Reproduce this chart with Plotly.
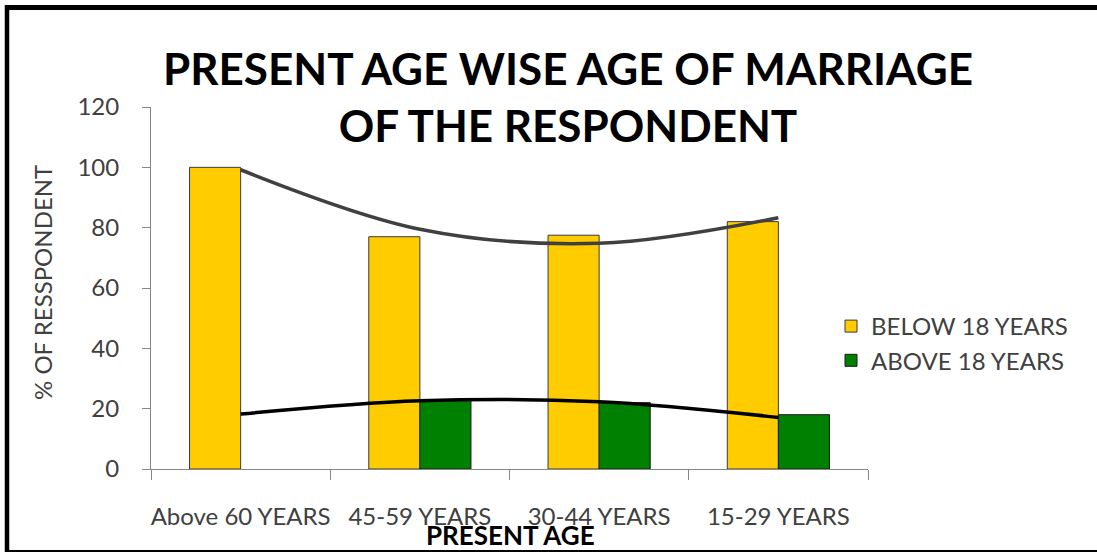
import plotly.graph_objects as go

# ---- data ----
categories = ["Above 60 YEARS", "45-59 YEARS", "30-44 YEARS", "15-29 YEARS"]
below_18 = [100, 77, 77.5, 82]
above_18 = [None, 23, 22, 18]
# polynomial trendline values read at category centres
below_trend = [99.2, 79.5, 74.8, 83.3]
above_trend = [18.2, 22.6, 22.3, 17.1]
y_ticks = [0, 20, 40, 60, 80, 100, 120]

W, H = 1097, 553
L, R, T, B = 151, 229, 107, 84
PW, PH = W - L - R, H - T - B
FONT = "Lato"


def px_x(p):
    return (p - L) / PW


def px_y(p):
    return (H - B - p) / PH


fig = go.Figure()
fig.add_trace(go.Bar(x=categories, y=below_18, name="BELOW 18 YEARS",
                     marker=dict(color="#FFCC00", line=dict(color="#3a3a3a", width=1))))
fig.add_trace(go.Bar(x=categories, y=above_18, name="ABOVE 18 YEARS",
                     marker=dict(color="#008000", line=dict(color="#1a1a1a", width=1))))

idx = list(range(len(categories)))
fig.add_trace(go.Scatter(x=idx, y=below_trend, xaxis="x2", mode="lines",
                         line=dict(color="#404040", width=3.5, shape="spline"),
                         showlegend=False, hoverinfo="skip"))
fig.add_trace(go.Scatter(x=idx, y=above_trend, xaxis="x2", mode="lines",
                         line=dict(color="#000000", width=3.5, shape="spline"),
                         showlegend=False, hoverinfo="skip"))

fig.update_layout(
    width=W, height=H,
    margin=dict(l=L, r=R, t=T, b=B, autoexpand=False),
    paper_bgcolor="white", plot_bgcolor="white",
    barmode="group", bargap=0.43, bargroupgap=0,
    font=dict(family=FONT, size=24, color="#404040"),
    title=dict(text="PRESENT AGE WISE AGE OF MARRIAGE<br>OF THE RESPONDENT",
               x=568 / W, xanchor="center", xref="container",
               y=1 - 85 / H, yanchor="middle", yref="container", automargin=False,
               font=dict(family=FONT, size=44, color="black", weight="bold")),
    xaxis=dict(type="category", range=[-0.5, 3.5], tickson="boundaries",
               ticks="outside", ticklen=10, tickcolor="#868686",
               showline=True, linecolor="#868686", linewidth=1,
               showgrid=False, ticklabelstandoff=26, tickangle=0, automargin=False,
               tickfont=dict(size=24, color="#404040")),
    xaxis2=dict(overlaying="x", range=[-0.5, 3.5], visible=False, anchor="y"),
    yaxis=dict(range=[0, 120], tickvals=y_ticks, ticks="outside", ticklen=8,
               tickcolor="#868686", showline=True, linecolor="#868686",
               linewidth=1, showgrid=False, zeroline=False, automargin=False,
               ticklabelstandoff=18, tickfont=dict(size=24, color="#404040")),
    legend=dict(x=px_x(831), y=px_y(304), xanchor="left", yanchor="top",
                font=dict(size=24, color="#404040"), bgcolor="rgba(0,0,0,0)",
                tracegroupgap=0),
    annotations=[
        dict(text="% OF RESSPONDENT", textangle=-90, xref="paper", yref="paper",
             x=px_x(42), y=px_y(283), xanchor="center", yanchor="middle",
             showarrow=False, font=dict(size=24, color="#404040")),
        dict(text="PRESENT AGE", xref="paper", yref="paper",
             x=px_x(510), y=px_y(535), xanchor="center", yanchor="middle",
             showarrow=False, font=dict(size=26, color="black", weight="bold")),
    ],
    shapes=[
        dict(type="line", xref="paper", yref="paper", x0=px_x(7), x1=px_x(7),
             y0=px_y(5), y1=px_y(552), line=dict(color="black", width=4.5)),
        dict(type="line", xref="paper", yref="paper", x0=px_x(5), x1=px_x(1300),
             y0=px_y(7.5), y1=px_y(7.5), line=dict(color="black", width=5)),
        dict(type="line", xref="paper", yref="paper", x0=px_x(5), x1=px_x(1300),
             y0=px_y(551), y1=px_y(551), line=dict(color="black", width=2)),
    ],
)

fig.write_html("out.html", config={"displayModeBar": False},
               post_script="document.body.style.margin='0';"
                           "document.body.style.overflow='hidden';"
                           "document.documentElement.style.overflow='hidden';")
